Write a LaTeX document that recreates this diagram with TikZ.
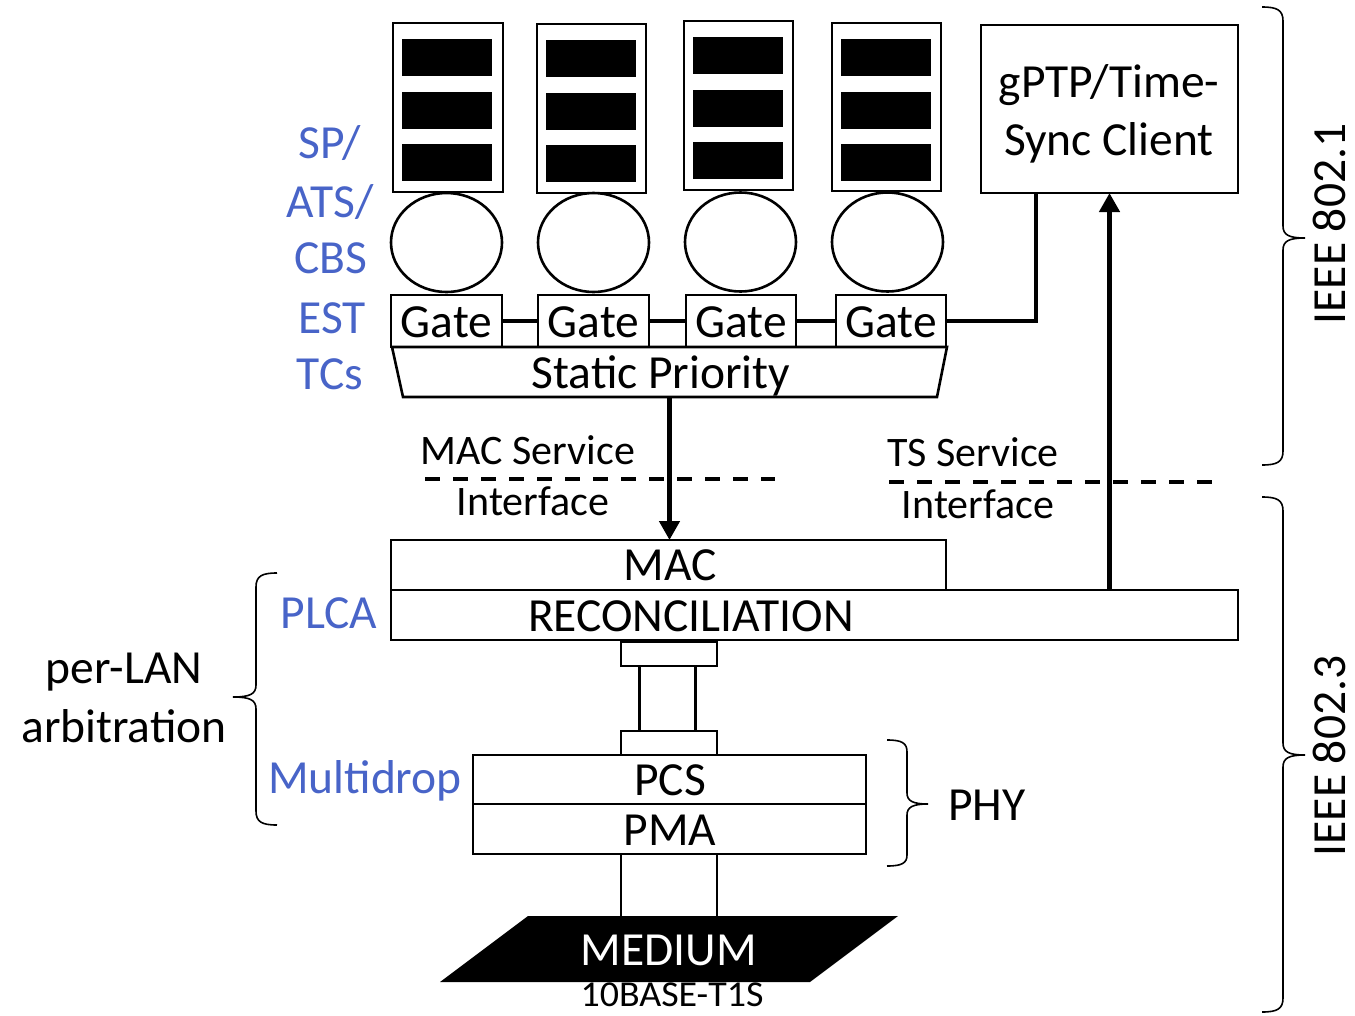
\documentclass[tikz,border=0pt]{standalone}
\usepackage{fontspec}
\setmainfont{Carlito}
\usetikzlibrary{fit,shapes.geometric,arrows.meta}
\definecolor{lblue}{RGB}{72,100,200}
\begin{document}
\begin{tikzpicture}[x=1pt,y=-1pt,
  bx/.style={draw,line width=2.6pt,inner sep=0pt,outer sep=0pt},
  area/.style={inner sep=0pt,outer sep=0pt},
  thn/.style={line width=2.6pt},
  thk/.style={line width=4.5pt},
  arr/.style={line width=4.5pt,-{Triangle[width=20pt,length=19pt]}},
  dsh/.style={line width=4pt,dash pattern=on 15pt off 13pt},
  brc/.style={line width=1.6pt},
  big/.style={font=\fontsize{47.5}{57}\selectfont,inner sep=0pt},
  mid/.style={font=\fontsize{42}{50}\selectfont,inner sep=0pt},
  sml/.style={font=\fontsize{36.5}{44}\selectfont,inner sep=0pt},
  blu/.style={big,text=lblue,anchor=base},
  lbl/.style={big,anchor=base}]
\useasboundingbox (0,0) rectangle (1355,1015);

% queues
\node[bx,fit={(393,23)(503,192)}] (q1) {};
\node[bx,fit={(537,24)(646,193)}] (q2) {};
\node[bx,fit={(684,21)(793,190)}] (q3) {};
\node[bx,fit={(832,23)(941,191)}] (q4) {};
\foreach \x/\t in {393/23,537/24,684/21,832/23}{
  \foreach \o in {16,69,121}{
    \fill (\x+9,\t+\o) rectangle (\x+99,\t+\o+37);
  }
}

% shapers
\node[bx,ellipse,minimum width=111pt,minimum height=99pt] (s1) at (446.5,242.5) {};
\node[bx,ellipse,minimum width=111pt,minimum height=99pt] (s2) at (593.5,242.5) {};
\node[bx,ellipse,minimum width=111pt,minimum height=99pt] (s3) at (740.5,242) {};
\node[bx,ellipse,minimum width=111pt,minimum height=99pt] (s4) at (887.5,242) {};

% gates
\node[bx,fit={(391,295)(502,347)}] (g1) {};
\node[bx,fit={(538,295)(649,347)}] (g2) {};
\node[bx,fit={(686,295)(796,347)}] (g3) {};
\node[bx,fit={(836,295)(946,347)}] (g4) {};
\node[lbl] (g1t) at (g1.center |- 0,337) {Gate};
\node[lbl] (g2t) at (g2.center |- 0,337) {Gate};
\node[lbl] (g3t) at (g3.center |- 0,337) {Gate};
\node[lbl] (g4t) at (g4.center |- 0,337) {Gate};
\draw[thk] (g1.east) -- (g2.west);
\draw[thk] (g2.east) -- (g3.west);
\draw[thk] (g3.east) -- (g4.west);

% static priority
\draw[thn,line join=miter] (392,347) -- (947,347) -- (937,397) -- (403,397) -- cycle;
\node[area,fit={(392,347)(947,397)}] (sp) {};
\node[lbl] (sptext) at (661,388) {Static Priority};

% gPTP
\node[bx,fit={(981,25)(1238,193)}] (gptp) {};
\node[lbl] (gptp1) at (1109,97) {gPTP/Time-};
\node[lbl] (gptp2) at (1109,155) {Sync Client};
\coordinate (gsync) at (1036,193);
\draw[thk] (g4.east) -| (gsync);

% MAC / reconciliation
\node[bx,fit={(391,540)(946,590)}] (mac) {};
\node[lbl] (mactext) at (670,580) {MAC};
\node[bx,fit={(391,590)(1238,640)}] (recon) {};
\node[lbl] (recontext) at (691,631) {RECONCILIATION};
\draw[arr] (sp.south) -- (sp.south |- mac.north);
\draw[arr] (recon.north -| gptp.south) -- (gptp.south);

% service interfaces
\draw[dsh] (425,479) -- (775,479);
\draw[dsh] (889,482) -- (1213,482);
\node[mid,anchor=base] (macsvc) at (528,464) {MAC Service};
\node[mid,anchor=base] (macif) at (533,515) {Interface};
\node[mid,anchor=base] (tssvc) at (973,466) {TS Service};
\node[mid,anchor=base] (tsif) at (978,518) {Interface};

% MII / PHY
\node[bx,fit={(621,642)(717,666)}] (xa) {};
\node[bx,fit={(621,731)(717,755)}] (xb) {};
\draw[thn] ([xshift=-29.5pt]xa.south) -- ([xshift=-29.5pt]xb.north);
\draw[thn] ([xshift=26.5pt]xa.south) -- ([xshift=26.5pt]xb.north);
\node[bx,fit={(473,755)(866,804)}] (pcs) {};
\node[bx,fit={(473,804)(866,854)}] (pma) {};
\node[lbl] (pcstext) at (670,795) {PCS};
\node[lbl] (pmatext) at (670,845) {PMA};

% medium
\fill (528,916) -- (898,916) -- (810,982) -- (440,982) -- cycle;
\node[area,fit={(440,916)(898,982)}] (med) {};
\draw[thn] ([xshift=-48.5pt]pma.south) -- ([xshift=-48.5pt]pma.south |- med.north);
\draw[thn] ([xshift=47.5pt]pma.south) -- ([xshift=47.5pt]pma.south |- med.north);
\node[lbl,text=white] (medtext) at (669,965) {MEDIUM};
\node[sml,anchor=base,xscale=1.04] (t1s) at (672,1006) {10BASE-T1S};

% blue labels
\node[blu] (lsp) at (330,158) {SP/};
\node[blu] (lats) at (330,217) {ATS/};
\node[blu] (lcbs) at (331,273) {CBS};
\node[blu] (lest) at (332,333) {EST};
\node[blu] (ltcs) at (330,389) {TCs};
\node[blu] (lplca) at (329,628) {PLCA};
\node[blu] (lmulti) at (365,793) {Multidrop};

% left labels
\node[lbl] (perlan) at (124,683) {per-LAN};
\node[lbl] (arb) at (124,742) {arbitration};
\node[lbl] (phy) at (987,820) {PHY};

% braces
\draw[brc] (277,573) .. controls (262,573) and (256,576) .. (256,587) -- (256,685)
  .. controls (256,694) and (250,697) .. (233,697)
  .. controls (250,697) and (256,700) .. (256,709) -- (256,811)
  .. controls (256,822) and (262,825) .. (277,825);
\draw[brc] (887,740) .. controls (902,740) and (907,743) .. (907,752) -- (907,793)
  .. controls (907,801) and (913,804) .. (928,804)
  .. controls (913,804) and (907,807) .. (907,815) -- (907,855)
  .. controls (907,863) and (902,866) .. (887,866);
\draw[brc] (1262,7) .. controls (1277,7) and (1283,10) .. (1283,21) -- (1283,226)
  .. controls (1283,235) and (1289,238) .. (1305,238)
  .. controls (1289,238) and (1283,241) .. (1283,250) -- (1283,451)
  .. controls (1283,462) and (1277,465) .. (1262,465);
\draw[brc] (1262,497) .. controls (1277,497) and (1283,500) .. (1283,511) -- (1283,743)
  .. controls (1283,752) and (1289,755) .. (1305,755)
  .. controls (1289,755) and (1283,758) .. (1283,767) -- (1283,998)
  .. controls (1283,1009) and (1277,1012) .. (1262,1012);

% standards
\node[lbl,rotate=90] (ieee1) at (1345,224) {IEEE 802.1};
\node[lbl,rotate=90] (ieee3) at (1345,756) {IEEE 802.3};
\end{tikzpicture}
\end{document}
